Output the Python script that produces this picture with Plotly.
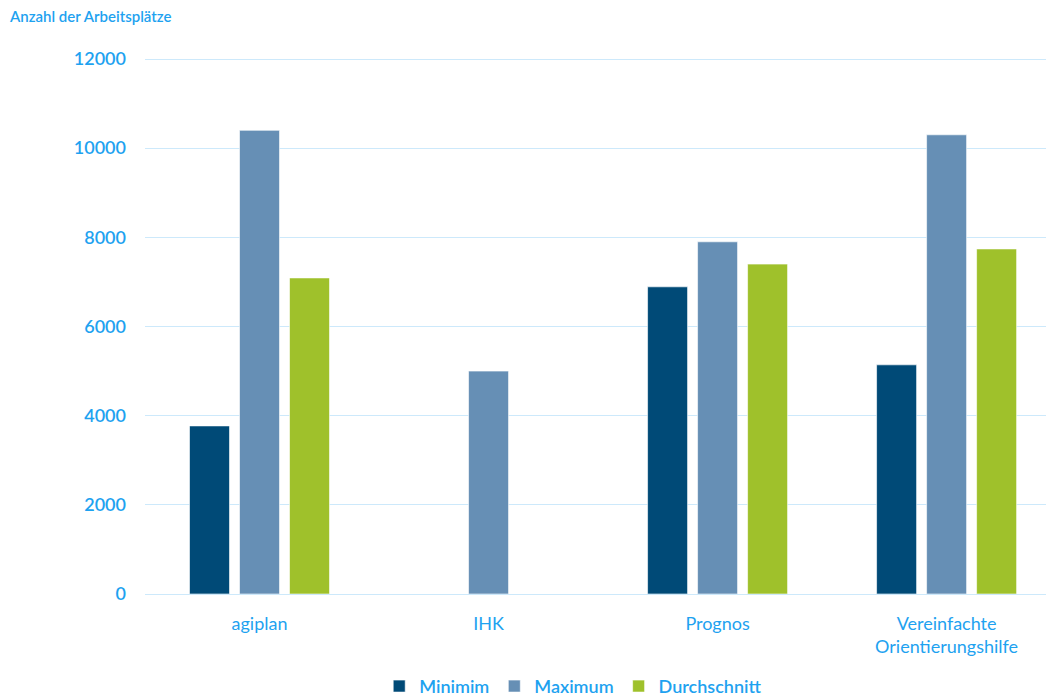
import plotly.graph_objects as go

categories = ["agiplan", "IHK", "Prognos", "Vereinfachte<br>Orientierungshilfe"]
minimum = [3770, None, 6890, 5140]
maximum = [10400, 5000, 7900, 10300]
average = [7090, None, 7400, 7740]
series_names = ["Minimim", "Maximum", "Durchschnitt"]
colors = ["#004a77", "#668fb5", "#9fc12b"]
y_ticks = [0, 2000, 4000, 6000, 8000, 10000, 12000]

TXT = "#1ea2f0"
FONT = "Lato, 'Open Sans', sans-serif"

fig = go.Figure()
for name, vals, col in zip(series_names, [minimum, maximum, average], colors):
    fig.add_trace(go.Bar(
        x=categories, y=vals, name=name,
        marker=dict(color=col, line=dict(color="rgba(255,255,255,0.6)", width=1)),
    ))

fig.update_layout(
    width=1046, height=699,
    paper_bgcolor="white", plot_bgcolor="white",
    barmode="group", bargap=0.345, bargroupgap=0.2,
    margin=dict(l=145, r=0, t=57, b=105, autoexpand=False),
    font=dict(family=FONT, color=TXT),
    xaxis=dict(
        type="category", range=[-0.5, 3.434],
        showgrid=False, showline=False, zeroline=False,
        ticks="", tickfont=dict(size=18, color=TXT, family=FONT),
        ticklabelstandoff=17,
    ),
    yaxis=dict(
        range=[0, 12045], tickvals=y_ticks, tickformat="d",
        showgrid=True, gridcolor="#cde9fb", gridwidth=1,
        zeroline=True, zerolinecolor="#cde9fb", zerolinewidth=1,
        showline=False, ticks="",
        tickfont=dict(size=18, color=TXT, family=FONT, weight=600),
        ticklabelstandoff=18,
    ),
    legend=dict(
        orientation="h", xref="container", yref="paper",
        x=0.548, xanchor="center", y=-0.172, yanchor="middle",
        font=dict(size=18, color=TXT, family=FONT, weight=600),
        itemwidth=30, tracegroupgap=0,
    ),
    annotations=[dict(
        text="Anzahl der Arbeitsplätze", xref="paper", yref="paper",
        x=0, y=1, xshift=-138, yshift=41, xanchor="left", yanchor="middle",
        showarrow=False, font=dict(size=15, color=TXT, family=FONT, weight=600),
    )],
)

fig.write_html("out.html")
